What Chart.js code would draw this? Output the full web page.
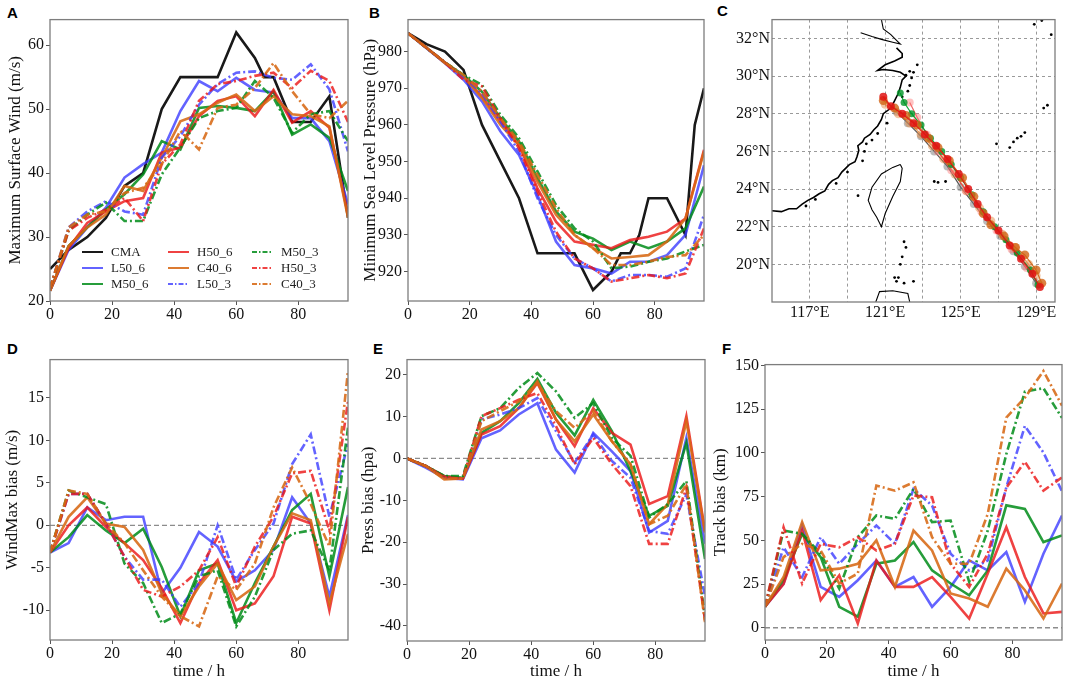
<!DOCTYPE html>
<html>
<head>
<meta charset="utf-8">
<title>Typhoon ensemble: intensity, track and bias</title>
<script src="https://cdn.jsdelivr.net/npm/chart.js@4.4.1/dist/chart.umd.min.js"></script>
<style>
  html, body { margin: 0; padding: 0; background: #fff; }
  body { position: relative; width: 1065px; height: 681px; overflow: hidden; }
  canvas { position: absolute; }
  .tag { position: absolute; font: bold 15px "Liberation Sans", Arial, sans-serif; line-height: 15px; color: #000; }
</style>
</head>
<body>
<div class="tag" style="left:7px;top:5px">A</div>
<div class="tag" style="left:369px;top:5px">B</div>
<div class="tag" style="left:717px;top:3px">C</div>
<div class="tag" style="left:7px;top:341px">D</div>
<div class="tag" style="left:373px;top:341px">E</div>
<div class="tag" style="left:722px;top:341px">F</div>
<canvas id="panelA"></canvas>
<canvas id="panelB"></canvas>
<canvas id="panelC"></canvas>
<canvas id="panelD"></canvas>
<canvas id="panelE"></canvas>
<canvas id="panelF"></canvas>
<script>
// ---- data ----
const hours = [0, 6, 12, 18, 24, 30, 36, 42, 48, 54, 60, 66, 72, 78, 84, 90, 96];
const hourTicks = [0, 20, 40, 60, 80];

// observed best track (CMA)
const cmaWindT = [0, 6, 12, 18, 24, 30, 36, 42, 48, 54, 60, 66, 69, 72, 78, 84, 90, 96];
const cmaWind = [25, 28, 30, 33, 38, 40, 50, 55, 55, 55, 62, 58, 55, 55, 48, 48, 52, 33];
const cmaPresT = [0, 6, 12, 18, 24, 30, 36, 42, 48, 54, 60, 66, 69, 72, 75, 78, 84, 90, 93, 96];
const cmaPres = [985, 982, 980, 975, 960, 950, 940, 925, 925, 925, 915, 920, 925, 925, 930, 940, 940, 930, 960, 970];

// maximum surface wind (m/s)
const windL50_6 = [21.6, 28, 31.5, 34.6, 39.3, 41.4, 43.2, 49.7, 54.4, 52.8, 54.9, 53, 52.6, 48.6, 48.6, 45, 35.1];
const windM50_6 = [21.6, 28.6, 31.5, 34.3, 36.7, 39.8, 45, 43.7, 50.2, 50.5, 50.2, 49.7, 52.8, 46, 47.6, 45.5, 37.2];
const windH50_6 = [21.6, 28.3, 32.2, 34, 35.6, 36.1, 43.2, 44, 48.9, 51.3, 52, 48.9, 53, 47.9, 49.7, 47.1, 33.5];
const windC40_6 = [21.6, 28.6, 31.5, 33.5, 38, 37.2, 42.4, 48.1, 49.2, 51, 52.3, 49.7, 52, 49.2, 48.9, 47.3, 33];
const windL50_3 = [22, 31.5, 34, 35.6, 34, 33.5, 42.4, 45.8, 50.7, 53.9, 55.7, 55.9, 54.9, 54.6, 57, 53.1, 43.4];
const windM50_3 = [22, 31, 33.5, 35.4, 32.5, 32.5, 39.8, 44, 48.6, 49.7, 50.2, 54.4, 51.8, 46.3, 49.2, 49.7, 45];
const windH50_3 = [22, 31, 33, 34.3, 36.1, 32.5, 41.4, 44.5, 51.3, 53.9, 54.4, 55.2, 55.7, 53.3, 56, 54.4, 48];
const windC40_3 = [22, 31.5, 33.5, 34, 36.9, 37.7, 41.4, 46.6, 43.7, 50.2, 50.7, 53.3, 57.2, 52.8, 49.2, 48.6, 51.3];

// minimum sea level pressure (hPa)
const presL50_6 = [985, 980.9, 976.8, 972.3, 966.4, 958.2, 951.8, 940.9, 928.2, 921.8, 920.9, 919.5, 922.7, 922.7, 924.5, 930, 949];
const presM50_6 = [985, 981, 977, 973.6, 969, 961.8, 955.5, 945.5, 936.4, 930.9, 929, 925.9, 928.2, 926.4, 928.2, 931.8, 943.2];
const presH50_6 = [985, 981, 977, 973.2, 967.7, 960.9, 954.5, 942.7, 933.6, 928.2, 927.3, 926.4, 928.6, 929.5, 930.9, 934.5, 953.2];
const presC40_6 = [985, 981, 976.8, 973.2, 967.3, 960, 954.5, 944.5, 935.5, 930, 926.4, 923.6, 924, 924.5, 928.2, 934.5, 952.7];
const presL50_3 = [985, 981, 977, 973.2, 968.6, 960.9, 952.7, 940, 930, 923.6, 920.9, 917.3, 919.1, 919.1, 918.6, 920.9, 935.5];
const presM50_3 = [985, 981, 977, 973.6, 970.9, 962.7, 956.4, 947.3, 938.2, 931.8, 928.2, 920.9, 921.4, 922.7, 923.6, 925.5, 927.3];
const presH50_3 = [985, 981, 977, 972.3, 970.5, 961.8, 953.6, 941.8, 930.9, 923.6, 920.9, 917.3, 918.2, 919.1, 918.2, 919.5, 931.8];
const presC40_3 = [985, 981, 977, 973.6, 969, 961.8, 955.5, 946.4, 937.3, 930, 926.4, 921.8, 921.8, 922.7, 924, 924.5, 930];

// wind bias (m/s)
const wbL50_6 = [-3.2, -2.1, 2.1, 0.6, 1, 1, -8, -5, -0.8, -2.5, -6.6, -5.3, -2.9, 3.3, 0.2, -8.4, 1.2];
const wbM50_6 = [-3.2, -1.4, 1.2, -0.6, -2.1, -0.4, -4.9, -10.7, -5.3, -4.5, -11.5, -6.8, -2.5, 1.8, 3.7, -6, 4.5];
const wbH50_6 = [-3.2, 0, 2.1, -0.2, -2.1, -4.1, -7.4, -11.5, -6.8, -4.1, -10, -9.2, -6, 1, 0.2, -10, 1];
const wbC40_6 = [-3.2, 1, 3.3, 0.2, -0.2, -2.9, -8, -10.7, -7.2, -4.5, -8.8, -7.2, -2.5, 1.4, 0.6, -9.2, -1];
const wbL50_3 = [-3.2, 3.7, 3.7, 0.2, -3.7, -6.4, -6.4, -9.6, -6.8, 0, -6.4, -2.9, 0.2, 7.2, 10.7, 1, 9.6];
const wbM50_3 = [-3.2, 4.1, 3.3, 2.5, -4.5, -6.8, -11.5, -10.4, -6, -5.3, -11.9, -8.4, -2.9, -1, -0.6, -5.3, 11.5];
const wbH50_3 = [-3.2, 3.7, 3.7, 0.2, -3.7, -7.6, -8.4, -7.2, -5.3, -1.4, -7.2, -2.5, 1, 6.1, 6.4, -0.6, 14.6];
const wbC40_3 = [-3.2, 4.1, 3.7, 0.2, -2.1, -5.3, -8.4, -10.7, -11.9, -6, -7.6, -4.5, 2.1, 6.8, 2.5, -2.5, 18.2];

// pressure bias (hPa)
const pbL50_6 = [0, -2.2, -4.6, -5, 4.8, 6.7, 10.5, 13.2, 2.1, -3.4, 6.1, 1.7, -3, -17.7, -14.9, 4.9, -20.4];
const pbM50_6 = [0, -1.8, -4.2, -4.6, 6.1, 8.9, 13.2, 19, 10.9, 5.5, 14, 6.5, -3, -13.7, -11.3, 3.7, -24];
const pbH50_6 = [0, -1.8, -4.3, -4.8, 5.7, 7.7, 12, 18, 9.3, 2.9, 12, 6.1, 3.3, -10.9, -9, 10.1, -17.3];
const pbC40_6 = [0, -1.8, -5, -4.8, 6.9, 8.9, 12, 18.4, 9.3, 4.1, 10.5, 4.1, -1.4, -15.7, -10.9, 8.9, -17.7];
const pbL50_3 = [0, -1.8, -4.5, -4.8, 9.3, 10.5, 12, 14.4, 6.5, -1, 5.7, -0.6, -4.6, -17.3, -18, -8.6, -33];
const pbM50_3 = [0, -1.8, -4.2, -4.2, 10.1, 12, 16.8, 20.4, 16, 9.7, 13.2, 4.9, 0.6, -14.1, -10.9, -5.4, -37.9];
const pbH50_3 = [0, -1.8, -4.5, -4.8, 10.1, 12, 14, 15.6, 7.7, -1.4, 4.9, -1.4, -6.6, -20.4, -20.4, -7, -38.7];
const pbC40_3 = [0, -1.8, -4.8, -4.8, 8.9, 11.3, 13.6, 18, 11.3, 7.3, 11.3, 4.1, -1.4, -15.7, -13.7, -6.2, -39.1];

// track bias (km)
const tbL50_6 = [12, 25.3, 58.5, 23.4, 17.7, 27.2, 38.5, 23.4, 29, 12, 23.4, 38.5, 32.8, 43.3, 14.8, 42.3, 64.2];
const tbM50_6 = [12, 27.2, 53.7, 40.4, 12, 6.3, 36.6, 38.5, 49, 32.8, 25.3, 18.6, 32.8, 70, 68, 49, 52.8];
const tbH50_6 = [12, 25, 55.6, 15.8, 30, 2.5, 38.5, 23.4, 23.4, 29, 17.7, 5.3, 31, 57.5, 29, 8.2, 9.1];
const tbC40_6 = [12, 29, 60.4, 32.8, 33.8, 36.6, 50, 23.4, 55.6, 44.2, 19.6, 16.7, 12, 33.8, 21.5, 5.3, 25.3];
const tbL50_3 = [12, 46, 29, 51.8, 36.6, 48, 58.5, 48, 79.4, 69.9, 42.3, 32.8, 38.5, 80.3, 115.4, 100.2, 78];
const tbM50_3 = [12, 55.6, 53.7, 42.3, 22.4, 51.8, 64.2, 62.3, 79.4, 60.4, 61.3, 26.2, 55.6, 99.3, 135, 137, 120];
const tbH50_3 = [12, 57.5, 25.3, 48, 46, 51.8, 44.2, 48, 75.6, 74.6, 36.6, 23.4, 42.3, 80, 95, 78.4, 86];
const tbC40_3 = [12, 40.4, 48, 44.2, 25.3, 31, 81.3, 78.4, 83.2, 51.8, 36.6, 36.6, 65.1, 120.2, 131.6, 146.8, 127];

// map: coastlines (lon, lat)
const coastLon = [115.0, 115.5, 115.9, 116.3, 116.6, 116.9, 117.2, 117.5, 117.8, 118.0, 118.2, 118.5, 118.7, 118.9, 119.1, 119.4, 119.5, 119.6, 119.55, 119.8, 119.9, 120.2, 120.4, 120.6, 120.8, 120.9, 121.3, 121.5, 121.7, 121.8, 121.9, 122.1, 121.8, 121.4, 120.9, 120.6, 121.0, 121.5, 121.9, 121.9, 121.6];
const coastLat = [22.85, 22.8, 22.95, 22.95, 23.2, 23.4, 23.55, 23.75, 23.9, 24.25, 24.45, 24.6, 24.9, 25.1, 25.3, 25.45, 25.7, 26.05, 26.3, 26.5, 26.7, 26.9, 27.15, 27.35, 27.7, 28.0, 28.3, 28.7, 29.1, 29.4, 29.8, 30.0, 30.2, 30.3, 30.35, 30.3, 30.6, 30.8, 31.0, 31.2, 31.5];
const northLon = [119.7, 120.3, 120.8, 121.4, 121.8, 121.6, 121.3, 120.9, 120.8];
const northLat = [32.3, 32.1, 31.95, 31.8, 31.7, 31.9, 32.2, 32.5, 33.0];
const taiwanLon = [121.8, 121.4, 120.8, 120.3, 120.1, 120.3, 120.55, 120.8, 121.0, 121.4, 121.8, 121.9, 121.8];
const taiwanLat = [25.3, 25.15, 24.8, 24.1, 23.4, 22.9, 22.5, 22.0, 22.7, 23.6, 24.4, 25.1, 25.3];
const luzonLon = [120.5, 120.7, 121.4, 122.2, 122.3];
const luzonLat = [18.0, 18.55, 18.6, 18.45, 18.0];
const islandLon = [116.8, 117.3, 118.4, 119.0, 119.56, 119.8, 119.9, 120.0, 120.3, 120.6, 121.1, 121.9, 122.2, 122.3, 122.4, 122.5, 122.7, 122.1, 122.3, 123.6, 123.8, 124.2, 127.6, 127.8, 128.0, 128.2, 128.4, 126.9, 129.4, 129.6, 128.9, 129.3, 129.8, 122.0, 122.1, 121.9, 121.5, 121.6, 121.7, 122.0, 122.5, 121.8];
const islandLat = [23.1, 23.45, 24.3, 24.9, 23.65, 25.5, 26.0, 26.4, 26.6, 26.95, 27.5, 28.9, 29.2, 29.5, 29.9, 30.2, 30.6, 30.05, 30.25, 24.4, 24.35, 24.4, 26.2, 26.5, 26.7, 26.8, 27.0, 26.4, 28.3, 28.45, 32.75, 32.95, 32.2, 21.2, 20.9, 20.4, 19.3, 19.1, 19.3, 19.0, 19.1, 20.0];
const lonTicks = [117, 119, 121, 123, 125, 127, 129];
const lonLabels = [117, 121, 125, 129];
const latTicks = [20, 22, 24, 26, 28, 30, 32];

// map: simulated / observed tracks
const trkObsLon = [129.0, 128.4, 127.8, 127.1, 126.4, 125.7, 125.0, 124.3, 123.6, 122.9, 122.2, 121.6];
const trkObsLat = [19.0, 19.9, 20.7, 21.5, 22.3, 23.2, 24.1, 25.2, 26.0, 26.8, 27.5, 28.1];
const trkOrgLon = [129.3, 129.0, 128.4, 127.9, 127.3, 126.6, 126.2, 125.7, 125.1, 124.4, 123.8, 123.3, 122.7, 122.1, 121.5, 120.9];
const trkOrgLat = [19.0, 19.7, 20.5, 20.9, 21.5, 22.1, 22.7, 23.6, 24.6, 25.5, 26.2, 26.7, 27.4, 27.9, 28.3, 28.7];
const trkOrg2Lon = [129.0, 128.6, 127.9, 127.2, 126.6, 126.0, 125.3, 124.7, 124.1, 123.5, 122.9, 122.3, 121.7, 121.0];
const trkOrg2Lat = [19.4, 20.0, 20.9, 21.6, 22.3, 23.0, 23.9, 24.8, 25.6, 26.3, 26.9, 27.5, 28.0, 28.5];
const trkRedLon = [129.2, 128.8, 128.2, 127.6, 127.0, 126.4, 125.9, 125.4, 124.9, 124.3, 123.7, 123.1, 122.5, 121.9, 121.3, 120.9];
const trkRedLat = [18.8, 19.5, 20.3, 21.0, 21.8, 22.5, 23.2, 24.0, 24.8, 25.6, 26.3, 26.9, 27.5, 28.0, 28.4, 28.9];
const trkRed2Lon = [129.2, 128.5, 127.7, 126.9, 126.1, 125.3, 124.5, 123.8, 123.2, 122.7, 122.3];
const trkRed2Lat = [18.9, 19.8, 20.8, 21.8, 22.8, 23.9, 25.0, 26.0, 26.9, 27.8, 28.6];
const trkGrnLon = [129.1, 128.7, 128.0, 127.4, 126.8, 126.2, 125.6, 125.0, 124.5, 124.0, 123.4, 122.9, 122.4, 122.0, 121.8];
const trkGrnLat = [18.9, 19.7, 20.6, 21.3, 22.0, 22.8, 23.7, 24.6, 25.3, 26.0, 26.7, 27.4, 28.0, 28.6, 29.1];

// ---- styling ----
const FONT = '"Liberation Serif", "Times New Roman", serif';
const tickFont = { family: FONT, size: 16 };
const titleFont = { family: FONT, size: 17 };
const INK = '#111';
const groupColors = {
  L50: 'rgba(60,60,255,0.8)',
  M50: 'rgba(0,140,25,0.85)',
  H50: 'rgba(235,25,25,0.82)',
  C40: 'rgba(215,105,20,0.88)'
};
const DASHDOT = [8, 3, 2, 3];
const legendGrid = [['CMA', 'L50_6', 'M50_6'], ['H50_6', 'C40_6', 'L50_3'], ['M50_3', 'H50_3', 'C40_3']];

function pts(xs, ys) {
  return xs.map((x, i) => ({ x: x, y: ys[i] }));
}

function runSet(name, values) {
  return {
    label: name,
    data: pts(hours, values),
    borderColor: groupColors[name.slice(0, 3)],
    borderDash: name.endsWith('_3') ? DASHDOT : [],
    borderWidth: 2.6,
    pointRadius: 0,
    fill: false,
    tension: 0
  };
}

function cmaSet(times, values) {
  return { label: 'CMA', data: pts(times, values), borderColor: 'rgba(0,0,0,0.9)',
           borderDash: [], borderWidth: 2.6, pointRadius: 0, fill: false, tension: 0 };
}

// matplotlib draws later lines on top; Chart.js draws the first dataset on top
function runSets(runs, cma) {
  const list = [];
  if (cma) list.push(cma);
  Object.keys(runs).forEach(k => list.push(runSet(k, runs[k])));
  return list.reverse();
}

const frame = {
  id: 'frame',
  afterDraw(chart) {
    const a = chart.chartArea, g = chart.ctx;
    g.save();
    g.strokeStyle = '#7d7d7d';
    g.lineWidth = 1.3;
    g.strokeRect(a.left, a.top, a.right - a.left, a.bottom - a.top);
    g.restore();
  }
};

const zeroLine = {
  id: 'zeroLine',
  beforeDatasetsDraw(chart) {
    const a = chart.chartArea, g = chart.ctx;
    const y = chart.scales.y.getPixelForValue(0);
    g.save();
    g.strokeStyle = '#8c8c8c';
    g.lineWidth = 1.3;
    g.setLineDash([5, 3]);
    g.beginPath();
    g.moveTo(a.left, y);
    g.lineTo(a.right, y);
    g.stroke();
    g.restore();
  }
};

const legendA = {
  id: 'legendA',
  afterDraw(chart) {
    const { ctx, chartArea: a } = chart;
    const colX = [32, 118, 202];
    const rowY = [-49, -33, -17];
    ctx.save();
    ctx.font = '13px ' + FONT;
    ctx.textBaseline = 'middle';
    legendGrid.forEach((col, ci) => col.forEach((name, ri) => {
      const ds = chart.data.datasets.find(d => d.label === name);
      const x = a.left + colX[ci], y = a.bottom + rowY[ri];
      ctx.strokeStyle = ds.borderColor;
      ctx.lineWidth = 2;
      ctx.setLineDash(ds.borderDash.length ? [5, 2, 1.5, 2] : []);
      ctx.beginPath();
      ctx.moveTo(x, y);
      ctx.lineTo(x + 21, y);
      ctx.stroke();
      ctx.setLineDash([]);
      ctx.fillStyle = '#222';
      ctx.fillText(name, x + 29, y + 1);
    }));
    ctx.restore();
  }
};

// place a canvas so that the plot area lands on box
function sizeCanvas(id, box, yW, xH, padRight) {
  const cv = document.getElementById(id);
  const padTop = 10;
  const w = yW + box.w + padRight, h = padTop + box.h + xH;
  cv.width = w;
  cv.height = h;
  cv.style.left = (box.x - yW) + 'px';
  cv.style.top = (box.y - padTop) + 'px';
  cv.style.width = w + 'px';
  cv.style.height = h + 'px';
  return cv;
}

// outward tick marks only, no grid inside the axes
const tickGrid = { display: true, drawOnChartArea: false, drawTicks: true, tickLength: 4,
                   tickColor: '#555', tickWidth: 1 };

function timePanel(id, box, opt) {
  const cv = sizeCanvas(id, box, opt.yW, opt.xH, 8);
  const plugins = [frame].concat(opt.plugins || []);
  return new Chart(cv, {
    type: 'line',
    data: { datasets: opt.datasets },
    options: {
      responsive: false,
      animation: false,
      layout: { padding: { top: 10, right: 8, left: 0, bottom: 0 } },
      plugins: { legend: { display: false }, tooltip: { enabled: false } },
      scales: {
        x: {
          type: 'linear', min: 0, max: 96,
          afterBuildTicks: s => { s.ticks = hourTicks.map(v => ({ value: v })); },
          afterFit: s => { s.height = opt.xH; },
          ticks: { padding: 0, color: INK, font: tickFont, autoSkip: false, maxRotation: 0 },
          grid: tickGrid,
          border: { display: false },
          title: { display: !!opt.xTitle, text: opt.xTitle || '', color: INK, font: titleFont, padding: 0 }
        },
        y: {
          type: 'linear', min: opt.yMin, max: opt.yMax,
          afterBuildTicks: s => { s.ticks = opt.yTicks.map(v => ({ value: v })); },
          afterFit: s => { s.width = opt.yW; },
          ticks: { padding: 2, color: INK, font: tickFont, autoSkip: false },
          grid: tickGrid,
          border: { display: false },
          title: { display: true, text: opt.yTitle, color: INK, font: titleFont, padding: 0 }
        }
      }
    },
    plugins: plugins
  });
}

// A: maximum surface wind
timePanel('panelA', { x: 50, y: 18, w: 298, h: 283 }, {
  yW: 45, xH: 30, yMin: 20, yMax: 64, yTicks: [20, 30, 40, 50, 60],
  yTitle: 'Maximum Surface Wind (m/s)',
  datasets: runSets({ L50_6: windL50_6, M50_6: windM50_6, H50_6: windH50_6, C40_6: windC40_6,
                      L50_3: windL50_3, M50_3: windM50_3, H50_3: windH50_3, C40_3: windC40_3 },
                    cmaSet(cmaWindT, cmaWind)),
  plugins: [legendA]
});

// B: minimum sea level pressure
timePanel('panelB', { x: 408, y: 18, w: 296, h: 283 }, {
  yW: 48, xH: 30, yMin: 912, yMax: 988.7, yTicks: [920, 930, 940, 950, 960, 970, 980],
  yTitle: 'Minimum Sea Level Pressure (hPa)',
  datasets: runSets({ L50_6: presL50_6, M50_6: presM50_6, H50_6: presH50_6, C40_6: presC40_6,
                      L50_3: presL50_3, M50_3: presM50_3, H50_3: presH50_3, C40_3: presC40_3 },
                    cmaSet(cmaPresT, cmaPres))
});

// D: wind bias
timePanel('panelD', { x: 50, y: 358, w: 298, h: 282 }, {
  yW: 48, xH: 42, yMin: -13.5, yMax: 19.5, yTicks: [-10, -5, 0, 5, 10, 15],
  yTitle: 'WindMax bias (m/s)', xTitle: 'time / h',
  datasets: runSets({ L50_6: wbL50_6, M50_6: wbM50_6, H50_6: wbH50_6, C40_6: wbC40_6,
                      L50_3: wbL50_3, M50_3: wbM50_3, H50_3: wbH50_3, C40_3: wbC40_3 }),
  plugins: [zeroLine]
});

// E: pressure bias
timePanel('panelE', { x: 407, y: 358, w: 298, h: 283 }, {
  yW: 49, xH: 41, yMin: -43.6, yMax: 23.6, yTicks: [-40, -30, -20, -10, 0, 10, 20],
  yTitle: 'Press bias (hpa)', xTitle: 'time / h',
  datasets: runSets({ L50_6: pbL50_6, M50_6: pbM50_6, H50_6: pbH50_6, C40_6: pbC40_6,
                      L50_3: pbL50_3, M50_3: pbM50_3, H50_3: pbH50_3, C40_3: pbC40_3 }),
  plugins: [zeroLine]
});

// F: track bias
timePanel('panelF', { x: 765, y: 363, w: 297, h: 277 }, {
  yW: 55, xH: 42, yMin: -7, yMax: 150.5, yTicks: [0, 25, 50, 75, 100, 125, 150],
  yTitle: 'Track bias (km)', xTitle: 'time / h',
  datasets: runSets({ L50_6: tbL50_6, M50_6: tbM50_6, H50_6: tbH50_6, C40_6: tbC40_6,
                      L50_3: tbL50_3, M50_3: tbM50_3, H50_3: tbH50_3, C40_3: tbC40_3 }),
  plugins: [zeroLine]
});

// C: track map
function coastSet(lon, lat, w) {
  return { data: pts(lon, lat), showLine: true, borderColor: '#000', borderWidth: w,
           pointRadius: 0, fill: false, tension: 0 };
}
function trackSet(lon, lat, line, dot, r) {
  return { data: pts(lon, lat), showLine: true, borderColor: line, borderWidth: 1.2,
           pointRadius: r, pointBackgroundColor: dot, pointBorderWidth: 0, fill: false, tension: 0 };
}

(function mapPanel() {
  const box = { x: 772, y: 18, w: 283, h: 284 };
  const cv = sizeCanvas('panelC', box, 45, 30, 10);
  const sets = [
    trackSet(trkRedLon, trkRedLat, 'rgba(225,20,20,0.9)', 'rgba(225,20,20,0.85)', 4),
    trackSet(trkOrgLon, trkOrgLat, 'rgba(210,100,20,0.9)', 'rgba(210,100,20,0.8)', 4.5),
    trackSet(trkGrnLon, trkGrnLat, 'rgba(0,160,40,0.9)', 'rgba(0,150,40,0.8)', 3.5),
    trackSet(trkRed2Lon, trkRed2Lat, 'rgba(235,60,60,0.8)', 'rgba(255,120,120,0.45)', 4),
    trackSet(trkOrg2Lon, trkOrg2Lat, 'rgba(225,130,60,0.8)', 'rgba(230,140,70,0.5)', 4.5),
    trackSet(trkObsLon, trkObsLat, 'rgba(40,40,40,0.8)', 'rgba(120,120,120,0.5)', 4),
    coastSet(coastLon, coastLat, 1.6),
    coastSet(northLon, northLat, 1.1),
    coastSet(taiwanLon, taiwanLat, 1.1),
    coastSet(luzonLon, luzonLat, 1.1),
    { data: pts(islandLon, islandLat), showLine: false, pointRadius: 1.4,
      pointBackgroundColor: '#000', pointBorderWidth: 0 }
  ];
  new Chart(cv, {
    type: 'scatter',
    data: { datasets: sets },
    options: {
      responsive: false,
      animation: false,
      layout: { padding: { top: 10, right: 10, left: 0, bottom: 0 } },
      plugins: { legend: { display: false }, tooltip: { enabled: false } },
      scales: {
        x: {
          type: 'linear', min: 115, max: 130,
          afterBuildTicks: s => { s.ticks = lonTicks.map(v => ({ value: v })); },
          afterFit: s => { s.height = 30; },
          ticks: { autoSkip: false, maxRotation: 0, padding: 1, color: INK, font: tickFont,
                   callback: v => lonLabels.includes(v) ? v + '°E' : '' },
          grid: { color: '#9a9a9a', lineWidth: 1, drawTicks: false },
          border: { display: false, dash: [3, 3] }
        },
        y: {
          type: 'linear', min: 18, max: 33,
          afterBuildTicks: s => { s.ticks = latTicks.map(v => ({ value: v })); },
          afterFit: s => { s.width = 45; },
          ticks: { autoSkip: false, padding: 2, color: INK, font: tickFont,
                   callback: v => v + '°N' },
          grid: { color: '#9a9a9a', lineWidth: 1, drawTicks: false },
          border: { display: false, dash: [3, 3] }
        }
      }
    },
    plugins: [frame]
  });
})();
</script>
</body>
</html>
